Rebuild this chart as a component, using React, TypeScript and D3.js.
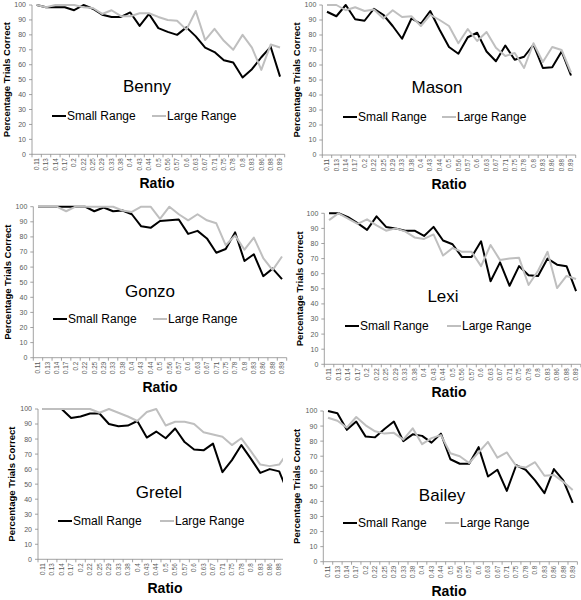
import React from 'react';
import * as d3 from 'd3';

const categories = ['0.11','0.13','0.14','0.17','0.2','0.22','0.25','0.29','0.33','0.38','0.4','0.43','0.44','0.5','0.56','0.57','0.6','0.63','0.67','0.71','0.75','0.78','0.8','0.83','0.86','0.88','0.89'];
const yTicks = [0,10,20,30,40,50,60,70,80,90,100];

const bennySmall = [100,98.5,98.5,98.5,96.5,100,97.5,93.5,92,92,95,86,94,84.5,82,80,85,79,71.5,68.5,63,61.5,51.5,57,65,72,52];
const bennyLarge = [100,98.5,100,100,100,98.5,98,94,96.5,92.5,92.5,94.5,94.5,92,90,89.5,83.5,96,76.5,84,76,70,80,71.5,56.5,73.5,71.5];
const masonSmall = [95.5,92.5,100,90.5,89.5,97.5,93.5,86,77.5,91,87.5,96,83.5,72,67.5,78.5,81.5,69,62.5,73,63.5,65.5,73.5,58,58.5,69,53];
const masonLarge = [100,100,96.5,98.5,96,97,91,96.5,92,92.5,86,93.5,90,86,74.5,84,76,82,71.5,66,68,58,74.5,62,72,70,55];
const gonzoSmall = [100,100,100,100,100,100,97,99.5,97,97.5,95,87,86,90.5,91,91.5,82,84,79,69.5,72,83,64,68.5,54,59,52];
const gonzoLarge = [100,100,100,97,100,100,100,100,100,97.5,96.5,100,100,92,100,95,91,95,91,89,74.5,81,71.5,79.5,66,58,67];
const lexiSmall = [100,100,97.5,93.5,89,98,91,90,88.5,88.5,85,91,82,79.5,71,71,81.5,55,67.5,52,65,59,58.5,70,66,65,48.5];
const lexiLarge = [95.5,100,96.5,93,96,92,88.5,90,88,84,83,86,72,77,74.5,74.5,65,79,69,70,70.5,52.5,62,74.5,50.5,58.5,56.5];
const gretelSmall = [100,100,100,94,95,97,97,90,88.5,89,92,81,85,80.5,87,78,73,72.5,77,58,66,76,67,57.5,60,58.5,43];
const gretelLarge = [100,100,100,100,100,100,97.5,100,97.5,95,92,98,100,89,91.5,91.5,90,84.5,83,81.5,76,80.5,72,63,62,63,72];
const baileySmall = [100,98.5,87.5,93,83,82.5,88,93,80,84.5,83.5,79,85,68,65,65,76,56.5,61,47,64,61,54,45.5,61.5,54,39];
const baileyLarge = [95.5,93.5,89,96,90.5,86.5,85,85.5,81,88.5,78,82,84,72,70,65.5,72.5,79.5,69,72.5,63.5,62.5,66,57,57.5,53,47.5];

const panels = [
  { name: 'Benny', small: bennySmall, large: bennyLarge, left: 32, right: 284.7, top: 5, bottom: 154.3, titleX: 147, titleY: 86, ratioX: 157, ratioY: 183, yTitleX: 7, legendY: 116, leg1: 52, leg2: 152, clip: null },
  { name: 'Mason', small: masonSmall, large: masonLarge, left: 322.3, right: 575.7, top: 5, bottom: 155, titleX: 437, titleY: 87, ratioX: 449, ratioY: 184, yTitleX: 297, legendY: 117, leg1: 343, leg2: 442, clip: null },
  { name: 'Gonzo', small: gonzoSmall, large: gonzoLarge, left: 33.3, right: 286.7, top: 206.7, bottom: 357.7, titleX: 150, titleY: 291, ratioX: 160, ratioY: 387, yTitleX: 8, legendY: 319, leg1: 53, leg2: 153, clip: null },
  { name: 'Lexi', small: lexiSmall, large: lexiLarge, left: 324.3, right: 580.8, top: 213.3, bottom: 364.3, titleX: 443, titleY: 296, ratioX: 449, ratioY: 392, yTitleX: 300, legendY: 326, leg1: 345, leg2: 447, clip: null },
  { name: 'Gretel', small: gretelSmall, large: gretelLarge, left: 38, right: 293.4, top: 409, bottom: 559.3, titleX: 159, titleY: 492, ratioX: 165, ratioY: 588, yTitleX: 12, legendY: 521, leg1: 58, leg2: 160, clip: 283 },
  { name: 'Bailey', small: baileySmall, large: baileyLarge, left: 323.3, right: 577.4, top: 411, bottom: 561.7, titleX: 442, titleY: 495, ratioX: 449, ratioY: 591, yTitleX: 297, legendY: 523, leg1: 343, leg2: 445, clip: null },
];

const FONT = '"Liberation Sans", Arial, sans-serif';
const AXIS = '#8c8c8c';
const LABEL = '#595959';
const GRAY = '#bfbfbf';

function Panel({ p, idx }: { p: any; idx: number }) {
  const x = d3.scaleBand<string>().domain(categories).range([p.left, p.right]).paddingInner(0).paddingOuter(0);
  const y = d3.scaleLinear().domain([0, 100]).range([p.bottom, p.top]);
  const cx = (c: string) => (x(c) as number) + x.bandwidth() / 2;
  const line = d3.line<number>().x((_, i) => cx(categories[i])).y((v) => y(v));
  const clipId = `clip${idx}`;
  const labels = p.clip ? categories.filter((c) => cx(c) < p.clip) : categories;
  const bounds = [...categories.map((c) => x(c) as number), p.right].filter((b) => !p.clip || b < p.clip);
  const axisRight = p.clip ? Math.min(p.clip, p.right) : p.right;
  const midY = (p.top + p.bottom) / 2;
  return (
    <g>
      {p.clip && (
        <defs>
          <clipPath id={clipId}>
            <rect x={0} y={p.top - 10} width={p.clip} height={p.bottom - p.top + 20} />
          </clipPath>
        </defs>
      )}
      {/* y axis */}
      <line x1={p.left} x2={p.left} y1={p.top} y2={p.bottom} stroke={AXIS} strokeWidth={0.8} />
      {yTicks.map((t) => (
        <g key={t}>
          <line x1={p.left - 3} x2={p.left} y1={y(t)} y2={y(t)} stroke={AXIS} strokeWidth={0.8} />
          <text x={p.left - 6} y={y(t)} dy="0.35em" textAnchor="end" fontSize={7} fill={LABEL} fontFamily={FONT}>{t}</text>
        </g>
      ))}
      {/* x axis */}
      <line x1={p.left} x2={axisRight} y1={p.bottom} y2={p.bottom} stroke={AXIS} strokeWidth={0.8} />
      {bounds.map((b, i) => (
        <line key={i} x1={b} x2={b} y1={p.bottom} y2={p.bottom + 3} stroke={AXIS} strokeWidth={0.8} />
      ))}
      {labels.map((c) => (
        <text key={c} transform={`translate(${cx(c)},${p.bottom + 4}) rotate(-90)`} textAnchor="end" dy="0.35em" fontSize={6.3} fill={LABEL} fontFamily={FONT}>{c}</text>
      ))}
      {/* series */}
      <g clipPath={p.clip ? `url(#${clipId})` : undefined}>
        <path d={line(p.small) as string} fill="none" stroke="#000" strokeWidth={2} strokeLinejoin="round" />
        <path d={line(p.large) as string} fill="none" stroke={GRAY} strokeWidth={2} strokeLinejoin="round" />
      </g>
      {/* title */}
      <text x={p.titleX} y={p.titleY} dy="0.35em" textAnchor="middle" fontSize={17} fill="#000" fontFamily={FONT}>{p.name}</text>
      {/* legend */}
      <line x1={p.leg1} x2={p.leg1 + 14} y1={p.legendY} y2={p.legendY} stroke="#000" strokeWidth={2} />
      <text x={p.leg1 + 15} y={p.legendY} dy="0.35em" fontSize={12} fill="#000" fontFamily={FONT}>Small Range</text>
      <line x1={p.leg2} x2={p.leg2 + 14} y1={p.legendY} y2={p.legendY} stroke={GRAY} strokeWidth={2} />
      <text x={p.leg2 + 15} y={p.legendY} dy="0.35em" fontSize={12} fill="#000" fontFamily={FONT}>Large Range</text>
      {/* axis titles */}
      <text x={p.ratioX} y={p.ratioY} dy="0.35em" textAnchor="middle" fontSize={14} fontWeight="bold" fill="#000" fontFamily={FONT}>Ratio</text>
      <text transform={`translate(${p.yTitleX},${midY}) rotate(-90)`} dy="0.35em" textAnchor="middle" fontSize={9.5} fontWeight="bold" fill="#000" fontFamily={FONT}>Percentage Trials Correct</text>
    </g>
  );
}

export default function App() {
  return (
    <svg width={581} height={600} style={{ position: 'absolute', left: 0, top: 0, background: '#fff' }}>
      <rect x={0} y={0} width={581} height={600} fill="#fff" />
      {panels.map((p, i) => (
        <Panel key={p.name} p={p} idx={i} />
      ))}
    </svg>
  );
}
